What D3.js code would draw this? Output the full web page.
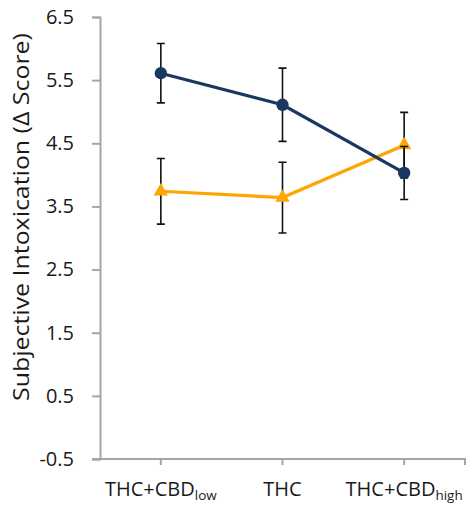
<!DOCTYPE html>
<html><head><meta charset="utf-8">
<script src="https://cdn.jsdelivr.net/npm/d3@7"></script>
<style>body{margin:0;background:#fff}svg{display:block}</style>
</head><body>
<svg id="c" width="467" height="513"></svg>
<script>
const categories = ["THC+CBD|low", "THC", "THC+CBD|high"];
const navyValues = [5.61, 5.11, 4.03];
const navyErrors = [0.47, 0.58, 0.42];
const orangeValues = [3.74, 3.64, 4.47];
const orangeErrors = [0.52, 0.56, 0.52];
const yTicks = [-0.5, 0.5, 1.5, 2.5, 3.5, 4.5, 5.5, 6.5];
const yTitle = "Subjective Intoxication (\u0394 Score)";

const svg = d3.select("#c");
const font = "'Open Sans', Lato, sans-serif";
const textColor = "#1a1a1a";
const mLeft = 100, mRight = 465, mTop = 17, mBottom = 459;
const x = d3.scaleBand().domain(categories).range([mLeft, mRight]).padding(0);
const y = d3.scaleLinear().domain([-0.5, 6.5]).range([mBottom, mTop]);
const cx = c => x(c) + x.bandwidth() / 2;
const axisColor = "#a6a6a6";

// y axis
const ya = svg.append("g").attr("transform", `translate(${mLeft},0)`)
  .call(d3.axisLeft(y).tickValues(yTicks).tickSize(8).tickPadding(18).tickFormat(d => d.toFixed(1)));
ya.select(".domain").attr("stroke", axisColor).attr("stroke-width", 2);
ya.selectAll(".tick line").attr("stroke", axisColor).attr("stroke-width", 2);
ya.selectAll(".tick text").attr("font-family", font).attr("font-size", 20).attr("fill", textColor);

// x axis
const xa = svg.append("g").attr("transform", `translate(0,${mBottom})`)
  .call(d3.axisBottom(x).tickSize(6).tickSizeOuter(6).tickFormat(""));
xa.select(".domain").attr("stroke", axisColor).attr("stroke-width", 2);
xa.selectAll(".tick line").attr("stroke", axisColor).attr("stroke-width", 2);
xa.select(".domain").attr("d", `M${mLeft - 8},0H${mRight}V6`);

// x labels with subscripts
categories.forEach(c => {
  const [main, sub] = c.split("|");
  const t = svg.append("text").attr("x", cx(c)).attr("y", 496)
    .attr("text-anchor", "middle").attr("font-family", font).attr("font-size", 20).attr("fill", textColor);
  t.append("tspan").text(main);
  if (sub) t.append("tspan").attr("font-size", 13.5).attr("dy", 4).text(sub);
});

// y title, stretched along its baseline to span the reference length
const titleG = svg.append("g");
const title = titleG.append("text")
  .attr("text-anchor", "middle").attr("font-family", font).attr("font-size", 21).attr("fill", textColor)
  .text(yTitle);
const len = title.node().getComputedTextLength();
titleG.attr("transform", `translate(29,${(32 + 402) / 2}) rotate(-90) scale(${368 / len},1)`);

function series(values, errors, color, shape) {
  const pts = categories.map((c, i) => ({c, v: values[i], e: errors[i]}));
  const g = svg.append("g");
  g.append("path").datum(pts).attr("fill", "none").attr("stroke", color).attr("stroke-width", 3.2)
    .attr("d", d3.line().x(d => cx(d.c)).y(d => y(d.v)));
  pts.forEach(d => {
    const X = cx(d.c);
    g.append("path").attr("stroke", "#111").attr("stroke-width", 1.6).attr("fill", "none")
      .attr("d", `M${X},${y(d.v + d.e)}V${y(d.v - d.e)}M${X - 4},${y(d.v + d.e)}H${X + 4}M${X - 4},${y(d.v - d.e)}H${X + 4}`);
  });
  g.selectAll(".m").data(pts).enter().append("path")
    .attr("transform", d => `translate(${cx(d.c)},${y(d.v)})`)
    .attr("fill", color)
    .attr("d", d3.symbol().type(shape).size(shape === d3.symbolCircle ? 120 : 90));
}
series(orangeValues, orangeErrors, "#ffa500", d3.symbolTriangle);
series(navyValues, navyErrors, "#1a3761", d3.symbolCircle);
</script>
</body></html>
